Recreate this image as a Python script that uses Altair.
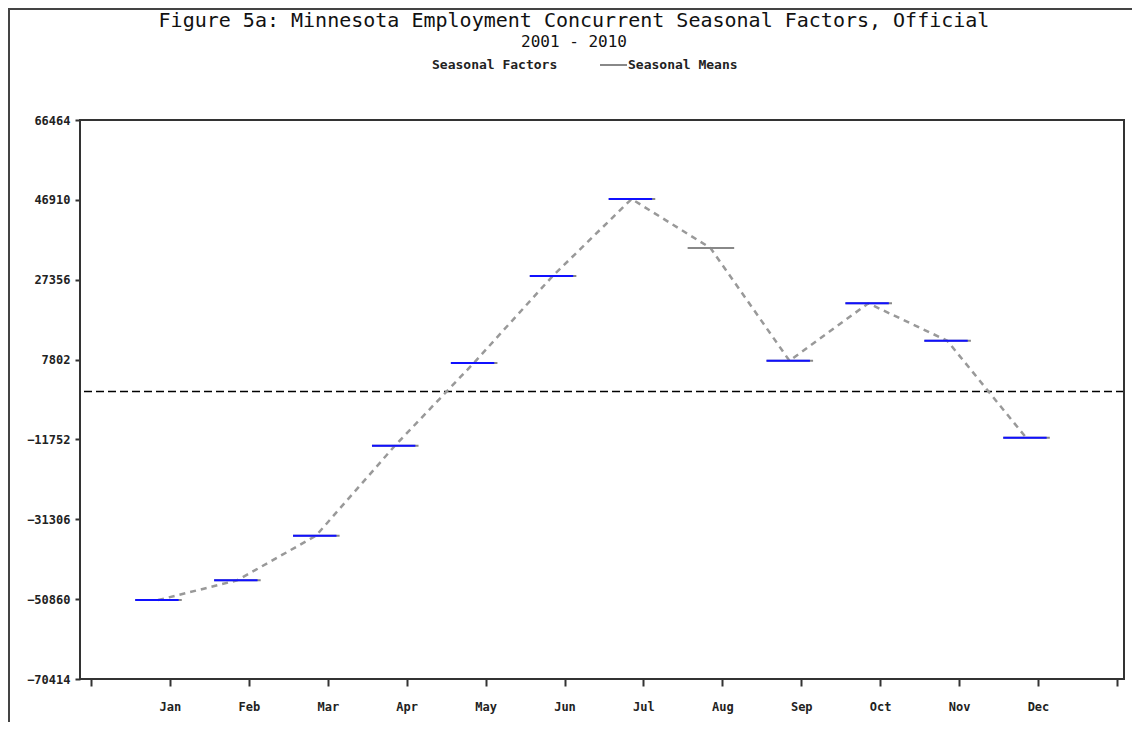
import json
import altair as alt
import pandas as pd

# ---- data ----
months = ["Jan", "Feb", "Mar", "Apr", "May", "Jun",
          "Jul", "Aug", "Sep", "Oct", "Nov", "Dec"]
seasonal_means = [-51088, -46263, -35341, -13300, 6953, 28260,
                  47117, 35117, 7517, 21574, 12415, -11341]
seasonal_factors = [-51088, -46263, -35341, -13300, 6953, 28260,
                    47117, None, 7517, 21574, 12415, -11341]
y_ticks = [-70414, -50860, -31306, -11752, 7802, 27356, 46910, 66464]
x_ticks = list(range(0, 14))

title_text = "Figure 5a: Minnesota Employment Concurrent Seasonal Factors, Official"
subtitle_text = "2001 - 2010"
legend_factors = "Seasonal Factors"
legend_means = "Seasonal Means"

df = pd.DataFrame({
    "month": months,
    "m": list(range(1, 13)),
    "mean": seasonal_means,
    "factor": seasonal_factors,
})

FONT = "DejaVu Sans Mono"
W, H = 1044, 559

xscale = alt.Scale(domain=[-0.14, 13.09], nice=False, zero=False)
yscale = alt.Scale(domain=[y_ticks[0], y_ticks[-1]], nice=False, zero=False)

label_expr = ("datum.value >= 1 && datum.value <= 12 ? "
              + json.dumps(months) + "[datum.value - 1] : ''")

x_axis = alt.Axis(values=x_ticks, labelExpr=label_expr, grid=False, domain=False,
                  tickSize=7, tickWidth=2, tickColor="#333", labelPadding=15,
                  labelFont=FONT, labelFontSize=12, labelFontWeight="bold",
                  labelColor="#222", title=None)
y_axis = alt.Axis(values=y_ticks, format="d", grid=False, domain=False,
                  tickSize=5, tickWidth=2, tickColor="#333", labelPadding=5,
                  labelFont=FONT, labelFontSize=12, labelFontWeight="bold",
                  labelColor="#222", title=None)

base = alt.Chart(df).transform_calculate(
    xl="datum.m - 0.44",
    xr_mean="datum.m + 0.15",
    xr_fac="datum.m + 0.11",
    xc="datum.m - 0.15",
)

zero_line = alt.Chart(pd.DataFrame({"z": [0]})).mark_rule(
    color="black", strokeWidth=1.5, strokeDash=[8, 4]
).encode(y=alt.Y("z:Q", scale=yscale, axis=y_axis))

mean_path = base.mark_line(color="#999", strokeWidth=2.5, strokeDash=[6, 5]).encode(
    x=alt.X("xc:Q", scale=xscale, axis=x_axis),
    y=alt.Y("mean:Q", scale=yscale, axis=y_axis),
    order="m:Q",
)

mean_segs = base.mark_rule(color="#888", strokeWidth=2).encode(
    x=alt.X("xl:Q", scale=xscale, axis=x_axis),
    x2="xr_mean:Q",
    y=alt.Y("mean:Q", scale=yscale, axis=y_axis),
)

fac_segs = base.transform_filter("datum.factor != null").mark_rule(
    color="#1010ff", strokeWidth=2
).encode(
    x=alt.X("xl:Q", scale=xscale, axis=x_axis),
    x2="xr_fac:Q",
    y=alt.Y("factor:Q", scale=yscale, axis=y_axis),
)

one = pd.DataFrame({"k": [0]})
deco = alt.Chart(one)

frame = deco.mark_rect(fillOpacity=0, stroke="#333", strokeWidth=2).encode(
    x=alt.value(0), x2=alt.value(W), y=alt.value(0), y2=alt.value(H))
title = deco.mark_text(text=title_text, font=FONT, fontSize=20, color="#111",
                       align="center", baseline="middle").encode(
    x=alt.value(494), y=alt.value(-99))
subtitle = deco.mark_text(text=subtitle_text, font=FONT, fontSize=16, color="#111",
                          align="center", baseline="middle").encode(
    x=alt.value(494), y=alt.value(-78))
leg1 = deco.mark_text(text=legend_factors, font=FONT, fontSize=13, fontWeight="bold",
                      color="#222", align="left", baseline="middle").encode(
    x=alt.value(352), y=alt.value(-55))
leg_line = deco.mark_rule(color="#888", strokeWidth=2).encode(
    x=alt.value(520), x2=alt.value(547), y=alt.value(-55))
leg2 = deco.mark_text(text=legend_means, font=FONT, fontSize=13, fontWeight="bold",
                      color="#222", align="left", baseline="middle").encode(
    x=alt.value(548), y=alt.value(-55))
border_top = deco.mark_rule(color="#444", strokeWidth=2).encode(
    x=alt.value(-72), x2=alt.value(1052), y=alt.value(-111))
border_left = deco.mark_rule(color="#444", strokeWidth=2).encode(
    x=alt.value(-71), y=alt.value(-112), y2=alt.value(602))

chart = alt.layer(
    zero_line, mean_path, mean_segs, fac_segs, frame,
    title, subtitle, leg1, leg_line, leg2, border_top, border_left,
).properties(
    width=W, height=H,
    autosize=alt.AutoSizeParams(type="none"),
    padding={"left": 72, "top": 112, "right": 8, "bottom": 43},
).configure_view(
    stroke=None, fill="white"
).configure(background="white")

chart.save("out.html", embed_options={"renderer": "svg", "actions": False})
